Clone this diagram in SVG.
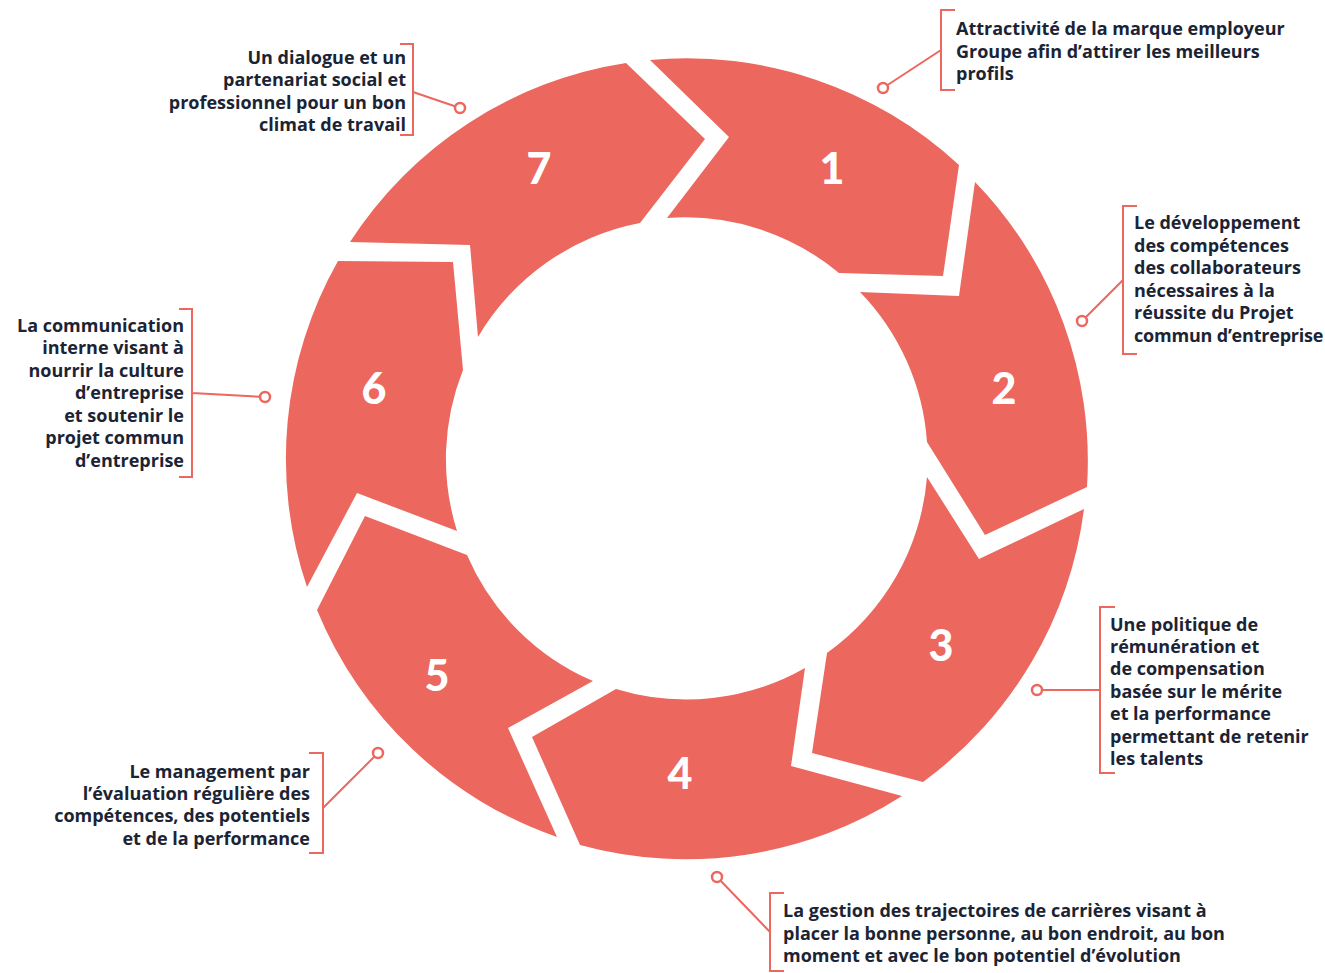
<svg xmlns="http://www.w3.org/2000/svg" width="1325" height="973" viewBox="0 0 1325 973">
<style>
.seg{fill:#EC675E;}
.num{font-family:Lato,"Liberation Sans",sans-serif;font-weight:900;font-size:43px;fill:#ffffff;text-anchor:middle;}
.lbl{font-family:"Open Sans","Liberation Sans",sans-serif;font-weight:700;font-size:18px;fill:#1B2434;}
.r{text-anchor:end;}
.tight{letter-spacing:-0.2px;}
.ln{fill:none;stroke:#EC675E;stroke-width:2;}
.dot{fill:#ffffff;stroke:#EC675E;stroke-width:2.5;}
</style>
<rect width="1325" height="973" fill="#ffffff"/>
<g id="node1">
<path class="seg" d="M650 60 A401 401 0 0 1 959 165 L943 276 L839 273 A240 240 0 0 0 667 218 L729 137 Z"/>
<text class="num" x="832" y="184">1</text>
</g>
<g id="node2">
<path class="seg" d="M975 182 A401 401 0 0 1 1087 487 L985 535 L927 442 A240 240 0 0 0 860 292 L959 296 Z"/>
<text class="num" x="1004" y="404">2</text>
</g>
<g id="node3">
<path class="seg" d="M1084 509 A401 401 0 0 1 923 782 L812 753 L827 653 A240 240 0 0 0 927 477 L979 559 Z"/>
<text class="num" x="941" y="661">3</text>
</g>
<g id="node4">
<path class="seg" d="M902 796 A401 401 0 0 1 580 845 L532 737 L616 689 A240 240 0 0 0 805 668 L791 766 Z"/>
<text class="num" x="680" y="789">4</text>
</g>
<g id="node5">
<path class="seg" d="M557 837 A401 401 0 0 1 317 610 L365 516 L467 555 A240 240 0 0 0 593 681 L508 728 Z"/>
<text class="num" x="437" y="691">5</text>
</g>
<g id="node6">
<path class="seg" d="M307 587 A401 401 0 0 1 338 261 L453 262 L463 370 A240 240 0 0 0 457 531 L357 493 Z"/>
<text class="num" x="374" y="404">6</text>
</g>
<g id="node7">
<path class="seg" d="M350 242 A401 401 0 0 1 626 63 L705 139 L640 223 A240 240 0 0 0 478 337 L470 245 Z"/>
<text class="num" x="539" y="184">7</text>
</g>
<g id="connectors">
<path class="ln" d="M955 10 H941 V90 H955 M941 50 L883 88"/>
<circle class="dot" cx="883" cy="88" r="5"/>
<path class="ln" d="M1137 206 H1123 V354 H1137 M1123 280 L1082 321"/>
<circle class="dot" cx="1082" cy="321" r="5"/>
<path class="ln" d="M1115 607 H1100 V773 H1115 M1100 690 H1037"/>
<circle class="dot" cx="1037" cy="690" r="5"/>
<path class="ln" d="M784 893 H770 V971 H784 M770 932 L717 877"/>
<circle class="dot" cx="717" cy="877" r="5"/>
<path class="ln" d="M309 753 H323 V853 H309 M323 808 L378 753"/>
<circle class="dot" cx="378" cy="753" r="5"/>
<path class="ln" d="M179 309 H192 V477 H179 M192 393 L265 397"/>
<circle class="dot" cx="265" cy="397" r="5"/>
<path class="ln" d="M400 44 H413 V135 H400 M413 92 L460 108"/>
<circle class="dot" cx="460" cy="108" r="5"/>
</g>
<g id="label1">
<text class="lbl" x="956" y="35">Attractivité de la marque employeur</text>
<text class="lbl" x="956" y="58">Groupe afin d’attirer les meilleurs</text>
<text class="lbl" x="956" y="80">profils</text>
</g>
<g id="label2">
<text class="lbl" x="1134" y="229">Le développement</text>
<text class="lbl" x="1134" y="252">des compétences</text>
<text class="lbl" x="1134" y="274">des collaborateurs</text>
<text class="lbl" x="1134" y="297">nécessaires à la</text>
<text class="lbl" x="1134" y="319">réussite du Projet</text>
<text class="lbl tight" x="1134" y="342">commun d’entreprise</text>
</g>
<g id="label3">
<text class="lbl" x="1110" y="631">Une politique de</text>
<text class="lbl" x="1110" y="653">rémunération et</text>
<text class="lbl" x="1110" y="675">de compensation</text>
<text class="lbl" x="1110" y="698">basée sur le mérite</text>
<text class="lbl" x="1110" y="720">et la performance</text>
<text class="lbl" x="1110" y="743">permettant de retenir</text>
<text class="lbl" x="1110" y="765">les talents</text>
</g>
<g id="label4">
<text class="lbl" x="783" y="917">La gestion des trajectoires de carrières visant à</text>
<text class="lbl" x="783" y="940">placer la bonne personne, au bon endroit, au bon</text>
<text class="lbl" x="783" y="962">moment et avec le bon potentiel d’évolution</text>
</g>
<g id="label5">
<text class="lbl r" x="310" y="778">Le management par</text>
<text class="lbl r" x="310" y="800">l’évaluation régulière des</text>
<text class="lbl r" x="310" y="822">compétences, des potentiels</text>
<text class="lbl r" x="310" y="845">et de la performance</text>
</g>
<g id="label6">
<text class="lbl r" x="184" y="332">La communication</text>
<text class="lbl r" x="184" y="354">interne visant à</text>
<text class="lbl r" x="184" y="377">nourrir la culture</text>
<text class="lbl r" x="184" y="399">d’entreprise</text>
<text class="lbl r" x="184" y="422">et soutenir le</text>
<text class="lbl r" x="184" y="444">projet commun</text>
<text class="lbl r" x="184" y="467">d’entreprise</text>
</g>
<g id="label7">
<text class="lbl r" x="406" y="64">Un dialogue et un</text>
<text class="lbl r" x="406" y="86">partenariat social et</text>
<text class="lbl r" x="406" y="109">professionnel pour un bon</text>
<text class="lbl r" x="406" y="131">climat de travail</text>
</g>
</svg>
